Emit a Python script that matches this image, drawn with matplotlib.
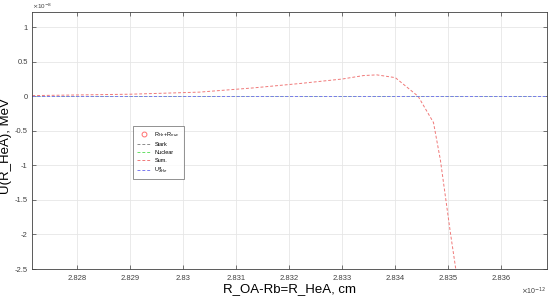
import matplotlib.pyplot as plt
import numpy as np
from matplotlib.ticker import FuncFormatter, MultipleLocator

plt.rcParams['font.family'] = ['Liberation Sans', 'DejaVu Sans']

# x in units of 1e-12 cm, y in units of 1e-8 MeV
r_sum = [2.82715, 2.8290, 2.8303, 2.8313, 2.8322, 2.8330, 2.8334, 2.83365, 2.8340,
         2.83443, 2.83472, 2.83485, 2.83504, 2.83516]
u_sum = [0.01, 0.03, 0.06, 0.12, 0.185, 0.25, 0.30, 0.31, 0.27,
         0.0, -0.38, -0.92, -1.98, -2.6]

r_flat = [2.82715, 2.83686]
u_stark = [0.0, 0.0]
u_nuclear = [0.0, 0.0]
u_xhe = [0.0, 0.0]

# R_He+R_nuc marker lies outside the view
r_rnuc = [2.8372]
u_rnuc = [0.0]

fig = plt.figure(figsize=(5.5, 3.01), dpi=100)
ax = fig.add_axes([32 / 550, 1 - 269 / 301, (547 - 32) / 550, (269 - 12) / 301])

ax.plot(r_rnuc, u_rnuc, 'o', mfc='none', mec='#ff6f6f', ms=3.5, mew=0.7,
        label=r'R$_{He}$+R$_{nuc}$')
ax.plot(r_flat, u_stark, '--', color='#8c8c8c', lw=0.7, dashes=(3, 2), label='Stark')
ax.plot(r_flat, u_nuclear, '--', color='#66e066', lw=0.7, dashes=(3, 2), label='Nuclear')
ax.plot(r_sum, u_sum, '--', color='#f07878', lw=0.7, dashes=(3, 2), label='Sum.')
ax.plot(r_flat, u_xhe, '--', color='#7a7af0', lw=0.7, dashes=(3, 2),
        label=r'U$^{a}_{XHe}$')

ax.set_xlim(2.827145, 2.836862)
ax.set_ylim(-2.5, 1.22)
ax.xaxis.set_major_locator(MultipleLocator(0.001))
ax.yaxis.set_major_locator(MultipleLocator(0.5))
fmt = FuncFormatter(lambda v, p: '%g' % round(v, 6))
ax.xaxis.set_major_formatter(fmt)
ax.yaxis.set_major_formatter(fmt)

ax.grid(True, color='#e6e6e6', lw=0.6)
ax.set_axisbelow(True)
ax.tick_params(direction='in', length=3, width=0.5, labelsize=5.5,
               labelcolor='#404040', color='#404040', top=True, right=True)
ax.tick_params(axis='x', pad=4)
ax.tick_params(axis='y', pad=3)
for s in ax.spines.values():
    s.set_color('#404040')
    s.set_linewidth(0.6)

ax.text(0.0, 1.004, r'$\times$10$^{-8}$', transform=ax.transAxes, fontsize=4.5,
        color='#404040', ha='left', va='bottom')
ax.text(1.0, -0.065, r'$\times$10$^{-12}$', transform=ax.transAxes, fontsize=5,
        color='#404040', ha='right', va='top')

ax.set_xlabel('R_OA-Rb=R_HeA, cm', fontsize=9.5, labelpad=1)
ax.set_ylabel('U(R_HeA), MeV', fontsize=9.5)
ax.yaxis.set_label_coords(-0.039, 0.479)

leg = ax.legend(loc='upper left', bbox_to_anchor=(98 / 515, (269 - 123) / 257),
                fontsize=4, frameon=True, fancybox=False, edgecolor='#404040',
                handlelength=2.6, handletextpad=0.6, borderpad=0.7,
                labelspacing=0.55)
leg.get_frame().set_linewidth(0.5)

fig.savefig('out.png', dpi=100)
